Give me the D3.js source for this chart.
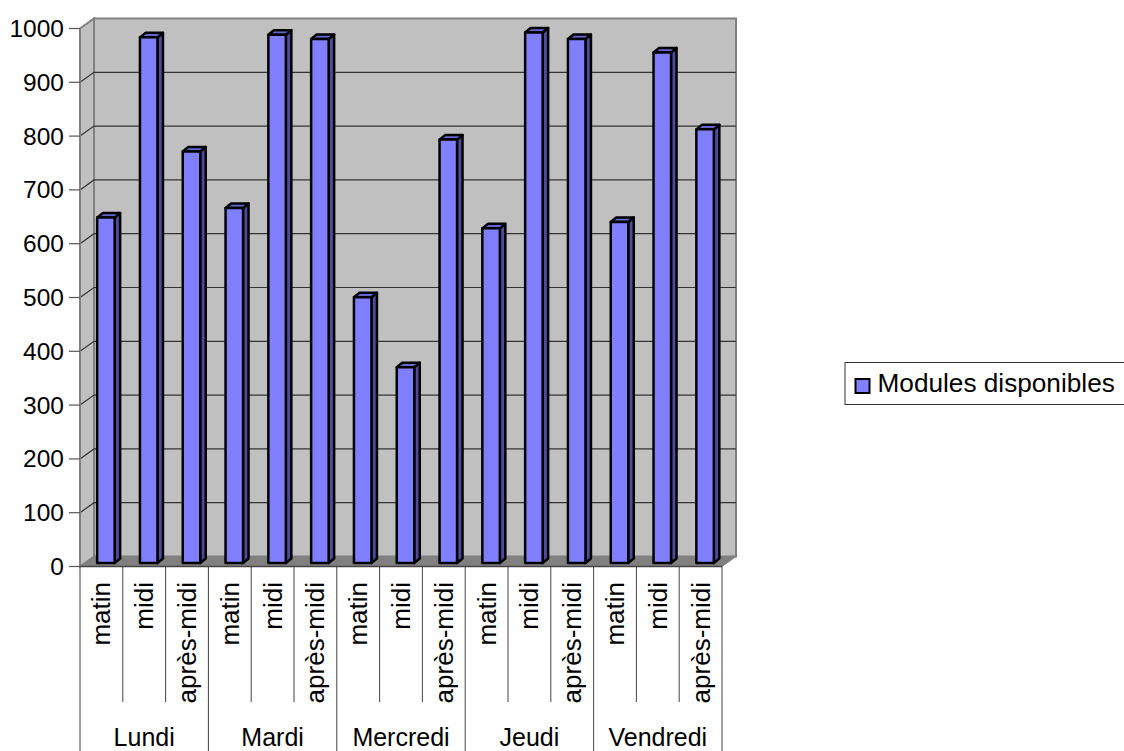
<!DOCTYPE html>
<html>
<head>
<meta charset="utf-8">
<script src="https://cdn.jsdelivr.net/npm/d3@7"></script>
<style>
  body { margin: 0; background: #fff; }
  text { font-family: "Liberation Sans", Arial, sans-serif; fill: #000; }
</style>
</head>
<body>
<svg id="chart" width="1124" height="751"></svg>
<script>
var days = ['Lundi', 'Mardi', 'Mercredi', 'Jeudi', 'Vendredi'];
var periods = ['matin', 'midi', 'après-midi'];
var modules = [642, 977, 765, 660, 982, 974, 494, 364, 787, 622, 986, 974, 634, 949, 806];
var yTicks = d3.range(0, 1001, 100);

var left = 80, right = 722, top_ = 28.5, bottom = 566.5;
var depthX = 14, depthY = -10;      // wall offset
var barX = 4.5, barY = -3.5;        // bars sit inside the floor
var sideX = 5.5, sideY = -4.5;      // bar thickness

var svg = d3.select('#chart');
var x = d3.scaleBand().domain(d3.range(15)).range([left, right]);
var y = d3.scaleLinear().domain([0, 1000]).range([bottom, top_]);
var line = d3.line();

// walls
svg.append('path').attr('fill', '#c0c0c0').attr('stroke', '#808080').attr('stroke-width', 2)
  .attr('d', line([[left + depthX, top_ + depthY], [right + depthX, top_ + depthY], [right + depthX, bottom + depthY], [left + depthX, bottom + depthY]]) + 'Z');
svg.append('path').attr('fill', '#c0c0c0').attr('stroke', '#808080').attr('stroke-width', 2)
  .attr('d', line([[left, top_], [left + depthX, top_ + depthY], [left + depthX, bottom + depthY], [left, bottom]]) + 'Z');
svg.append('path').attr('fill', '#808080').attr('stroke', '#808080')
  .attr('d', line([[left, bottom], [left + depthX, bottom + depthY], [right + depthX, bottom + depthY], [right, bottom]]) + 'Z');

// gridlines
yTicks.slice(1, -1).forEach(function (t) {
  svg.append('path').attr('fill', 'none').attr('stroke', '#333').attr('stroke-width', 1.2)
    .attr('d', line([[left, y(t)], [left + depthX, y(t) + depthY], [right + depthX, y(t) + depthY]]));
});

// axes
svg.append('line').attr('x1', left).attr('x2', left).attr('y1', top_).attr('y2', bottom).attr('stroke', '#808080').attr('stroke-width', 2);
svg.append('line').attr('x1', left).attr('x2', right).attr('y1', bottom).attr('y2', bottom).attr('stroke', '#444').attr('stroke-width', 1.5);

yTicks.forEach(function (t) {
  svg.append('line').attr('x1', left - 11).attr('x2', left).attr('y1', y(t)).attr('y2', y(t)).attr('stroke', '#555').attr('stroke-width', 1.2);
  svg.append('text').attr('x', left - 16).attr('y', y(t) + 8.5).attr('text-anchor', 'end').attr('font-size', 24.5).text(t);
});

// bars
var bars = svg.append('g').selectAll('g').data(modules).enter().append('g')
  .attr('stroke', '#000').attr('stroke-width', 2.5).attr('stroke-linejoin', 'round');
var bw = 17.5;
function bx(i) { return x(i) + x.bandwidth() / 2 - bw / 2 + barX; }
bars.append('path').attr('fill', '#4c4c99').attr('d', function (d, i) {
  var a = bx(i) + bw;
  return line([[a, y(d) + barY], [a + sideX, y(d) + barY + sideY], [a + sideX, y(0) + barY + sideY], [a, y(0) + barY]]) + 'Z';
});
bars.append('path').attr('fill', '#6666cc').attr('d', function (d, i) {
  var a = bx(i);
  return line([[a, y(d) + barY], [a + sideX, y(d) + barY + sideY], [a + bw + sideX, y(d) + barY + sideY], [a + bw, y(d) + barY]]) + 'Z';
});
bars.append('rect').attr('fill', '#8080ff')
  .attr('x', function (d, i) { return bx(i); })
  .attr('y', function (d) { return y(d) + barY; })
  .attr('width', bw)
  .attr('height', function (d) { return y(0) - y(d); });

// period labels and separators
d3.range(15).forEach(function (i) {
  var cx = x(i) + x.bandwidth() / 2;
  svg.append('text').attr('transform', 'translate(' + (cx + 9) + ',' + 582 + ') rotate(-90)')
    .attr('font-size', 26).attr('text-anchor', 'end')
    .text(periods[i % 3]);
  if (i % 3 !== 2) {
    svg.append('line').attr('x1', x(i + 1)).attr('x2', x(i + 1)).attr('y1', bottom).attr('y2', 702).attr('stroke', '#444').attr('stroke-width', 1);
  }
});

// day labels and separators
days.forEach(function (d, i) {
  var a = x(i * 3), b = x(i * 3 + 2) + x.bandwidth();
  svg.append('text').attr('x', (a + b) / 2).attr('y', 746).attr('text-anchor', 'middle').attr('font-size', 25).text(d);
  svg.append('line').attr('x1', a).attr('x2', a).attr('y1', bottom).attr('y2', 751).attr('stroke', '#444').attr('stroke-width', 1);
});
svg.append('line').attr('x1', right).attr('x2', right).attr('y1', bottom).attr('y2', 751).attr('stroke', '#444').attr('stroke-width', 1);

// legend
var legend = svg.append('g');
legend.append('rect').attr('x', 845).attr('y', 362.5).attr('width', 285).attr('height', 42).attr('fill', '#fff').attr('stroke', '#333').attr('stroke-width', 1);
legend.append('rect').attr('x', 855.5).attr('y', 379).attr('width', 14).attr('height', 14).attr('fill', '#8080ff').attr('stroke', '#000').attr('stroke-width', 2);
legend.append('text').attr('x', 877.5).attr('y', 392).attr('font-size', 26.2).text('Modules disponibles');
</script>
</body>
</html>
